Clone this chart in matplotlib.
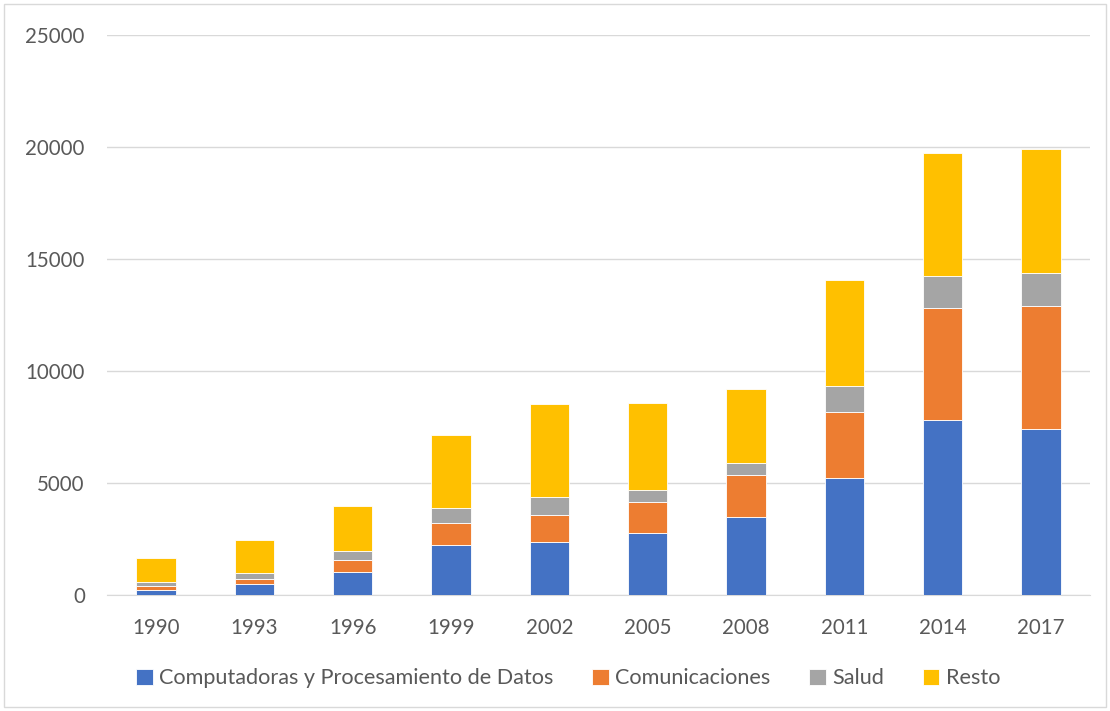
import numpy as np
import matplotlib.pyplot as plt
from matplotlib.patches import Rectangle

years = ['1990', '1993', '1996', '1999', '2002', '2005', '2008', '2011', '2014', '2017']
computadoras = [220, 480, 1030, 2230, 2380, 2770, 3480, 5240, 7830, 7400]
comunicaciones = [180, 240, 540, 980, 1190, 1380, 1880, 2950, 4980, 5500]
salud = [200, 280, 390, 670, 800, 550, 510, 1120, 1410, 1460]
resto = [1050, 1450, 2010, 3280, 4170, 3880, 3320, 4730, 5530, 5540]

series = [
    ('Computadoras y Procesamiento de Datos', computadoras, '#4472c4'),
    ('Comunicaciones', comunicaciones, '#ed7d31'),
    ('Salud', salud, '#a5a5a5'),
    ('Resto', resto, '#ffc000'),
]

plt.rcParams['font.family'] = ['Lato', 'DejaVu Sans']
text_color = '#595959'

fig = plt.figure(figsize=(11.1, 7.11), dpi=100)
ax = fig.add_axes([0.0964, 0.1632, 0.8856, 0.7876])

x = np.arange(len(years))
bottom = np.zeros(len(years))
for name, vals, color in series:
    ax.bar(x, vals, 0.4, bottom=bottom, color=color, label=name,
           edgecolor='white', linewidth=0.6, zorder=3)
    bottom += np.array(vals)

ax.set_xlim(-0.5, len(years) - 0.5)
ax.set_ylim(0, 25000)
ax.set_yticks(np.arange(0, 25001, 5000))
ax.set_xticks(x)
ax.set_xticklabels(years)
ax.grid(axis='y', color='#d9d9d9', linewidth=1, zorder=0)
ax.tick_params(length=0, labelsize=14.8, colors=text_color)
ax.tick_params(axis='y', pad=16)
ax.tick_params(axis='x', pad=16.5)
for side in ['top', 'right', 'left']:
    ax.spines[side].set_visible(False)
ax.spines['bottom'].set_color('#d9d9d9')

leg = fig.legend(loc='center', bbox_to_anchor=(0.512, 0.046), ncol=4,
                 frameon=False, fontsize=15.6, handlelength=0.75,
                 handleheight=0.75, handletextpad=0.3, columnspacing=1.8)
for t in leg.get_texts():
    t.set_color(text_color)

# thin border around the chart area
fig.patches.append(Rectangle((0.004, 0.006), 0.992, 0.988, transform=fig.transFigure,
                             fill=False, edgecolor='#d9d9d9', linewidth=1))

fig.savefig('out.png', dpi=100)
